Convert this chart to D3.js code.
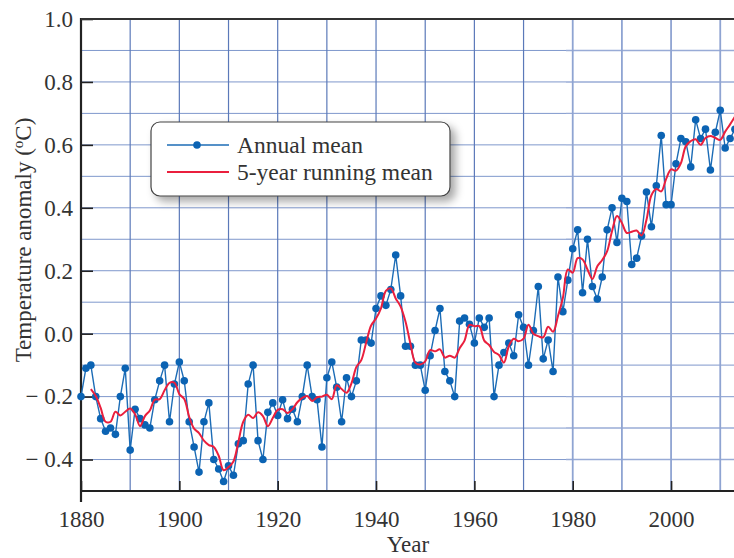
<!DOCTYPE html>
<html>
<head>
<meta charset="utf-8">
<script src="https://cdn.jsdelivr.net/npm/d3@7"></script>
<style>
  body { margin: 0; background: #fff; }
  svg { display: block; font-family: "Liberation Serif", "DejaVu Serif", serif; }
</style>
</head>
<body>
<div id="chart"></div>
<script>
// --- données ---
const years = d3.range(1880, 2014);
const annualMean = [
  -0.20, -0.11, -0.10, -0.20, -0.27, -0.31, -0.30, -0.32, -0.20, -0.11,
  -0.37, -0.24, -0.27, -0.29, -0.30, -0.21, -0.15, -0.10, -0.28, -0.16,
  -0.09, -0.15, -0.28, -0.36, -0.44, -0.28, -0.22, -0.40, -0.43, -0.47,
  -0.42, -0.45, -0.35, -0.34, -0.16, -0.10, -0.34, -0.40, -0.25, -0.22,
  -0.26, -0.21, -0.27, -0.24, -0.28, -0.20, -0.10, -0.20, -0.21, -0.36,
  -0.14, -0.09, -0.17, -0.28, -0.14, -0.20, -0.15, -0.02, -0.02, -0.03,
   0.08,  0.12,  0.09,  0.14,  0.25,  0.12, -0.04, -0.04, -0.10, -0.10,
  -0.18, -0.07,  0.01,  0.08, -0.12, -0.15, -0.20,  0.04,  0.05,  0.03,
  -0.03,  0.05,  0.02,  0.05, -0.20, -0.10, -0.06, -0.03, -0.07,  0.06,
   0.02, -0.10,  0.01,  0.15, -0.08, -0.02, -0.12,  0.18,  0.07,  0.17,
   0.27,  0.33,  0.13,  0.30,  0.15,  0.11,  0.18,  0.33,  0.40,  0.29,
   0.43,  0.42,  0.22,  0.24,  0.31,  0.45,  0.34,  0.47,  0.63,  0.41,
   0.41,  0.54,  0.62,  0.61,  0.53,  0.68,  0.62,  0.65,  0.52,  0.64,
   0.71,  0.59,  0.62,  0.65
];

const runYears = d3.range(1882, 2014);
const runningMean = [
  -0.176, -0.198, -0.236, -0.280, -0.280, -0.248, -0.260, -0.248,
  -0.238, -0.256, -0.294, -0.262, -0.244, -0.210, -0.208, -0.180, -0.156, -0.156,
  -0.192, -0.208, -0.264, -0.302, -0.316, -0.340, -0.354, -0.360, -0.388, -0.434,
  -0.424, -0.406, -0.344, -0.280, -0.258, -0.268, -0.250, -0.262, -0.294, -0.268,
  -0.242, -0.240, -0.252, -0.240, -0.218, -0.204, -0.198, -0.214, -0.202, -0.200,
  -0.194, -0.208, -0.164, -0.176, -0.188, -0.158, -0.106, -0.084, -0.028,  0.026,
   0.048,  0.080,  0.136,  0.144,  0.112,  0.086,  0.038, -0.032, -0.092, -0.098,
  -0.088, -0.052, -0.056, -0.050, -0.076, -0.070, -0.076, -0.046, -0.022,  0.028,
   0.024,  0.024, -0.022, -0.036, -0.058, -0.068, -0.092, -0.040, -0.016, -0.024,
  -0.016,  0.028,  0.000, -0.008, -0.012,  0.022,  0.006,  0.056,  0.114,  0.204,
   0.194,  0.240,  0.236,  0.204,  0.174,  0.214,  0.234,  0.262,  0.326,  0.374,
   0.352,  0.320,  0.324,  0.328,  0.312,  0.362,  0.440,  0.460,  0.452,  0.492,
   0.522,  0.518,  0.542,  0.596,  0.612,  0.618,  0.600,  0.622,  0.628,  0.622,
   0.616,  0.642,  0.665,  0.690
];

const yTicks = [-0.4, -0.2, 0.0, 0.2, 0.4, 0.6, 0.8, 1.0];
const xTicks = [1880, 1900, 1920, 1940, 1960, 1980, 2000];
const seriesNames = ["Annual mean", "5-year running mean"];

// --- dimensions ---
const width = 734, height = 558;
const mLeft = 81, mTop = 19, mBottom = 491;

const x = d3.scaleLinear().domain([1880, 2013]).range([mLeft, 735]);
const y = d3.scaleLinear().domain([-0.5, 1.0]).range([mBottom, mTop]);

const blue = "#0b63b3", red = "#ea1f3d";

const svg = d3.select("#chart").append("svg")
  .attr("width", width)
  .attr("height", height);

const defs = svg.append("defs");
defs.append("clipPath").attr("id", "plot")
  .append("rect").attr("x", mLeft).attr("y", mTop).attr("width", width - mLeft).attr("height", mBottom - mTop);
defs.append("clipPath").attr("id", "rightZone")
  .append("rect").attr("x", 566).attr("y", mTop).attr("width", width - 566).attr("height", mBottom - mTop);
const shadow = defs.append("filter").attr("id", "shadow")
  .attr("x", "-10%").attr("y", "-20%").attr("width", "130%").attr("height", "160%");
shadow.append("feDropShadow")
  .attr("dx", 5).attr("dy", 5).attr("stdDeviation", 4)
  .attr("flood-color", "#000").attr("flood-opacity", 0.35);

// --- grille ---
const hGrid = d3.range(-4, 10).map(d => d / 10);
const vGrid = d3.range(1890, 2020, 10);

function drawGrid(g, hColor, vColor, hw, vw) {
  g.selectAll(".h").data(hGrid).enter().append("line")
    .attr("x1", mLeft).attr("x2", width)
    .attr("y1", d => y(d)).attr("y2", d => y(d))
    .attr("stroke", hColor).attr("stroke-width", hw);
  g.selectAll(".v").data(vGrid).enter().append("line")
    .attr("x1", d => x(d)).attr("x2", d => x(d))
    .attr("y1", mTop).attr("y2", mBottom)
    .attr("stroke", vColor).attr("stroke-width", vw);
}
drawGrid(svg.append("g").attr("clip-path", "url(#plot)"), "#7f98cc", "#5b79b9", 1, 1.2);
const gr = svg.append("g").attr("clip-path", "url(#rightZone)");
gr.append("rect").attr("x", 566).attr("y", mTop).attr("width", width - 566).attr("height", mBottom - mTop).attr("fill", "#fff");
drawGrid(gr, "#98abd6", "#8fa4d2", 1.4, 1.8);

// --- axes ---
const yAxis = d3.axisLeft(y)
  .tickValues(yTicks)
  .tickSize(-12)
  .tickPadding(8)
  .tickFormat(d => d < 0 ? "\u2212 " + d3.format(".1f")(-d) : d3.format(".1f")(d));
const gy = svg.append("g").attr("transform", `translate(${mLeft},0)`).call(yAxis);
gy.select(".domain").remove();
gy.selectAll(".tick line").attr("stroke", "#222").attr("stroke-width", 1.6);
gy.selectAll(".tick text").attr("font-size", 23).attr("fill", "#333")
  .attr("font-family", "Liberation Serif, serif");

const xAxis = d3.axisBottom(x)
  .tickValues(xTicks)
  .tickSize(-10)
  .tickPadding(20)
  .tickFormat(d3.format("d"));
const gx = svg.append("g").attr("transform", `translate(0,${mBottom})`).call(xAxis);
gx.select(".domain").remove();
gx.selectAll(".tick line").attr("stroke", "#222").attr("stroke-width", 1.6);
gx.selectAll(".tick text").attr("font-size", 23).attr("fill", "#333")
  .attr("font-family", "Liberation Serif, serif");

// cadre
svg.append("line").attr("x1", mLeft).attr("x2", mLeft).attr("y1", mTop - 1).attr("y2", mBottom + 11)
  .attr("stroke", "#222").attr("stroke-width", 2.2);
svg.append("line").attr("x1", mLeft).attr("x2", width).attr("y1", mBottom).attr("y2", mBottom)
  .attr("stroke", "#222").attr("stroke-width", 2.2);
svg.append("line").attr("x1", mLeft).attr("x2", width).attr("y1", mTop).attr("y2", mTop)
  .attr("stroke", "#333").attr("stroke-width", 2);

// --- séries ---
const annual = years.map((yr, i) => ({ year: yr, value: annualMean[i] }));
const running = runYears.map((yr, i) => ({ year: yr, value: runningMean[i] }));

svg.append("path")
  .datum(annual)
  .attr("fill", "none")
  .attr("stroke", "#1c6cb6")
  .attr("stroke-width", 1.4)
  .attr("d", d3.line().x(d => x(d.year)).y(d => y(d.value)));

svg.append("g").selectAll("circle")
  .data(annual)
  .enter().append("circle")
  .attr("cx", d => x(d.year))
  .attr("cy", d => y(d.value))
  .attr("r", 3.8)
  .attr("fill", blue);

svg.append("path")
  .datum(running)
  .attr("fill", "none")
  .attr("stroke", red)
  .attr("stroke-width", 2)
  .attr("d", d3.line().curve(d3.curveCatmullRom).x(d => x(d.year)).y(d => y(d.value)));

// --- légende ---
const lg = svg.append("g").attr("transform", "translate(151,122)");
lg.append("rect")
  .attr("width", 299).attr("height", 74)
  .attr("rx", 9).attr("ry", 9)
  .attr("fill", "#fff")
  .attr("stroke", "#444").attr("stroke-width", 1.2)
  .attr("filter", "url(#shadow)");
lg.append("line").attr("x1", 16).attr("x2", 78).attr("y1", 23).attr("y2", 23)
  .attr("stroke", "#1c6cb6").attr("stroke-width", 1.4);
lg.append("circle").attr("cx", 46).attr("cy", 23).attr("r", 3.8).attr("fill", blue);
lg.append("line").attr("x1", 16).attr("x2", 78).attr("y1", 50).attr("y2", 50)
  .attr("stroke", red).attr("stroke-width", 2);
lg.selectAll("text.lab").data(seriesNames).enter().append("text")
  .attr("x", 86)
  .attr("y", (d, i) => 31 + i * 27)
  .attr("font-size", 23.5)
  .attr("fill", "#333")
  .text(d => d);

// --- titres des axes ---
const yt = svg.append("text")
  .attr("transform", "translate(31,240) rotate(-90)")
  .attr("text-anchor", "middle")
  .attr("font-size", 23)
  .attr("fill", "#333");
yt.append("tspan").text("Temperature anomaly (");
yt.append("tspan").attr("font-size", 15).attr("dy", -8).text("o");
yt.append("tspan").attr("dy", 8).text("C)");

svg.append("text")
  .attr("x", 408).attr("y", 552)
  .attr("text-anchor", "middle")
  .attr("font-size", 23)
  .attr("fill", "#333")
  .text("Year");
</script>
</body>
</html>
